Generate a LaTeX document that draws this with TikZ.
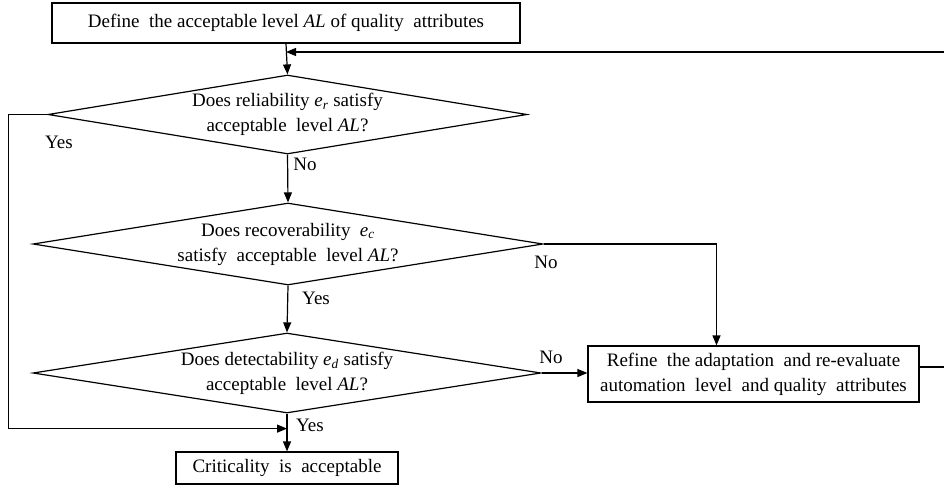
\documentclass[tikz,border=0pt]{standalone}
\usepackage{fontspec}
\setmainfont{Liberation Serif}
\usetikzlibrary{arrows.meta,shapes.geometric}
\begin{document}
\begin{tikzpicture}[x=1pt,y=-1pt,
  every node/.style={font=\fontsize{19}{25}\selectfont},
  box/.style={draw,line width=1.2pt,inner sep=0pt,align=center},
  dec/.style={draw,diamond,line width=1.2pt,inner sep=0pt,aspect=6,align=center},
  line/.style={line width=1.2pt},
  arr/.style={line,-{Triangle[length=10pt,width=8pt]}},
  lbl/.style={inner sep=0pt}]
\useasboundingbox (0,0) rectangle (944,487);
\node[box,minimum width=468pt,minimum height=40pt] (def) at (286,23)
  {Define\ \ the acceptable level \textit{AL} of quality\ \ attributes};
\node[dec,minimum width=479pt,minimum height=79pt] (d1) at (287.5,114.5)
  {Does reliability \textit{e}\textsubscript{\textit{r}} satisfy\\ acceptable\ \ level \textit{AL}?};
\node[dec,minimum width=510pt,minimum height=82pt] (d2) at (288,244)
  {Does recoverability\ \ \textit{e}\textsubscript{\textit{c}}\\ satisfy\ \ acceptable\ \ level \textit{AL}?};
\node[dec,minimum width=508pt,minimum height=80pt] (d3) at (287,373)
  {Does detectability \textit{e}\textsubscript{\textit{d}} satisfy\\ acceptable\ \ level \textit{AL}?};
\node[box,minimum width=331pt,minimum height=56pt] (refine) at (753.5,374)
  {Refine\ \ the adaptation\ \ and re-evaluate\\ automation\ \ level\ \ and quality\ \ attributes};
\node[box,minimum width=222pt,minimum height=32pt] (crit) at (287,468)
  {Criticality\ \ is\ \ acceptable};
\coordinate (fbR) at (944,52);
\coordinate (rtR) at (944,367);
\path (d3.south) ++(0,15) coordinate (merge);
\draw[arr] (def.south) -- (d1.north);
\draw[arr] (fbR) -- (fbR -| def.south);
\draw[arr] (d1.south) -- (d2.north);
\draw[arr] (d2.south) -- (d3.north);
\draw[arr] (d3.south) -- (crit.north);
\draw[arr] (d2.east) -| ([xshift=-37pt]refine.north);
\draw[arr] (d3.east) -- (d3.east -| refine.west);
\draw[line] (refine.east |- rtR) -- (rtR);
\draw[arr] (d1.west) -- ++(-39,0) |- (merge);
\node[lbl] (yes1) at (59,142) {Yes};
\node[lbl] (no1) at (305,164) {No};
\node[lbl] (no2) at (546,262) {No};
\node[lbl] (yes2) at (316,298) {Yes};
\node[lbl] (no3) at (551,357) {No};
\node[lbl] (yes3) at (310,425) {Yes};
\end{tikzpicture}
\end{document}
